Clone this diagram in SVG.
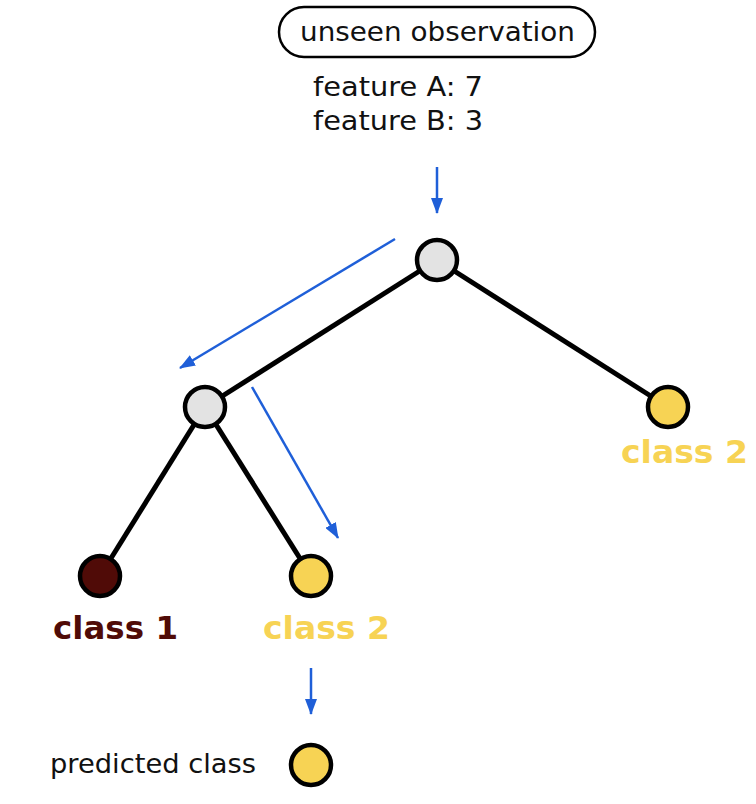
<svg xmlns="http://www.w3.org/2000/svg" width="756" height="804" viewBox="0 0 756 804">
<style>
.edge{stroke:#000;stroke-width:5;fill:none}
.flow{stroke:#1f5fd8;stroke-width:2.5;fill:none}
.node{stroke:#000;stroke-width:4.5}
.inner{fill:#e3e3e3}
.c1{fill:#500b07}
.c2{fill:#f7d354}
.txt{font-family:"DejaVu Sans",Verdana,sans-serif;fill:#111}
.lbl{font-family:"DejaVu Sans",Verdana,sans-serif;font-weight:bold;font-size:32px}
</style>
<defs>
<marker id="ah" viewBox="0 0 16 12" refX="15" refY="6" markerWidth="16" markerHeight="12" orient="auto" markerUnits="userSpaceOnUse">
<path d="M0,0 L16,6 L0,12 Z" fill="#1f5fd8"/>
</marker>
</defs>
<g id="observation">
<rect x="279" y="7" width="316" height="50" rx="25" ry="25" fill="#fff" stroke="#000" stroke-width="2.5"/>
<text class="txt" x="300" y="41" font-size="27" textLength="275" lengthAdjust="spacingAndGlyphs">unseen observation</text>
<text class="txt" x="313" y="96" font-size="27" textLength="170" lengthAdjust="spacingAndGlyphs">feature A: 7</text>
<text class="txt" x="313" y="130" font-size="27" textLength="170" lengthAdjust="spacingAndGlyphs">feature B: 3</text>
</g>
<g id="connectors">
<line class="edge" x1="437" y1="260" x2="205" y2="407"/>
<line class="edge" x1="437" y1="260" x2="668" y2="407"/>
<line class="edge" x1="205" y1="407" x2="100" y2="576"/>
<line class="edge" x1="205" y1="407" x2="311" y2="576"/>
<line class="flow" x1="437" y1="167" x2="437" y2="213" marker-end="url(#ah)"/>
<line class="flow" x1="395" y1="239" x2="180" y2="368" marker-end="url(#ah)"/>
<line class="flow" x1="252" y1="387" x2="338" y2="538" marker-end="url(#ah)"/>
<line class="flow" x1="311" y1="668" x2="311" y2="714" marker-end="url(#ah)"/>
</g>
<g id="root"><circle class="node inner" cx="437" cy="260" r="20"/></g>
<g id="split"><circle class="node inner" cx="205" cy="407" r="20"/></g>
<g id="leaf-right">
<circle class="node c2" cx="668" cy="407" r="20"/>
<text class="lbl c2" x="621" y="463" textLength="127" lengthAdjust="spacingAndGlyphs">class 2</text>
</g>
<g id="leaf-class1">
<circle class="node c1" cx="100" cy="576" r="20"/>
<text class="lbl c1" x="53" y="639" textLength="125" lengthAdjust="spacingAndGlyphs">class 1</text>
</g>
<g id="leaf-class2">
<circle class="node c2" cx="311" cy="576" r="20"/>
<text class="lbl c2" x="263" y="639" textLength="127" lengthAdjust="spacingAndGlyphs">class 2</text>
</g>
<g id="predicted">
<text class="txt" x="50" y="773" font-size="27" textLength="206" lengthAdjust="spacingAndGlyphs">predicted class</text>
<circle class="node c2" cx="311" cy="765" r="20"/>
</g>
</svg>
